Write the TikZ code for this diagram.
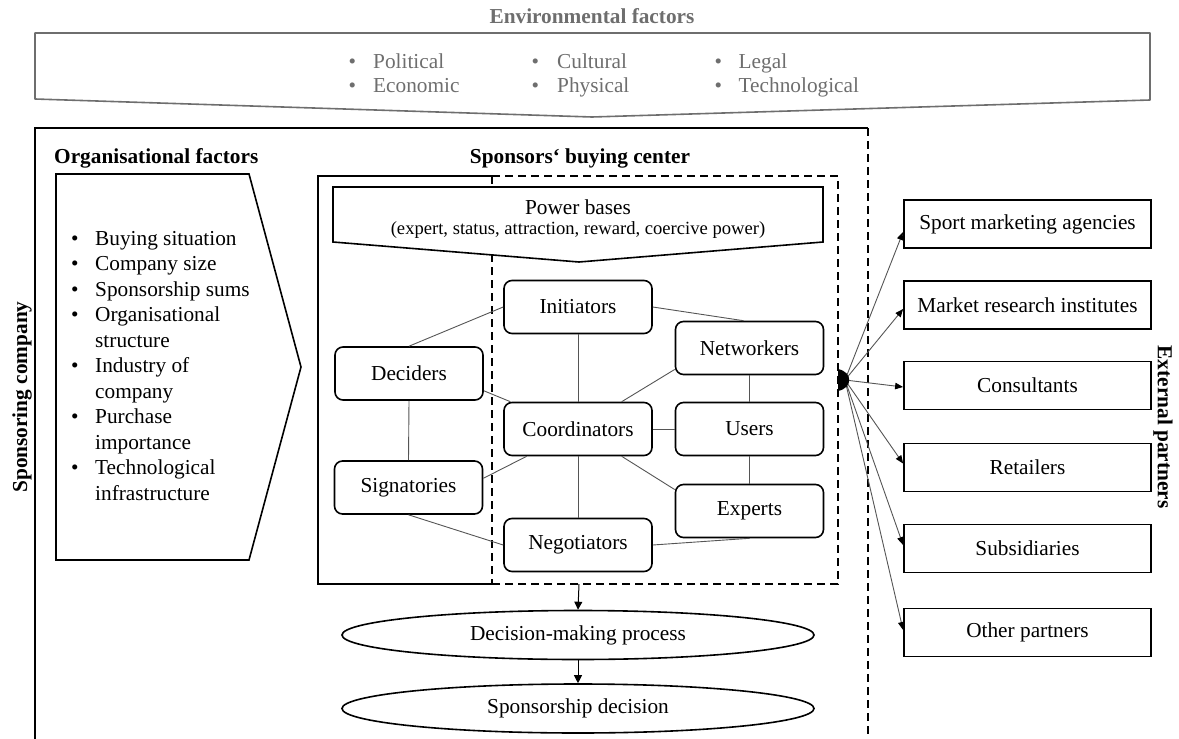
\documentclass[tikz,border=0pt]{standalone}
\usepackage{fontspec}
\setmainfont{Liberation Serif}
\usetikzlibrary{arrows.meta,shapes.geometric,calc}
\definecolor{envgray}{RGB}{110,110,110}
\definecolor{linkgray}{RGB}{85,85,85}
\begin{document}
\begin{tikzpicture}[x=1pt,y=-1pt,
  txt/.style={font=\fontsize{21.3}{25.5}\selectfont, inner sep=0pt},
  title/.style={font=\fontsize{21.3}{25.5}\selectfont\bfseries, inner sep=0pt},
  envlist/.style={font=\fontsize{21.3}{24}\selectfont, text=envgray, inner sep=0pt, anchor=north west},
  role/.style={draw, line width=1.6pt, rounded corners=8pt, minimum width=148pt,
    minimum height=53pt, inner sep=0pt, font=\fontsize{21.3}{25.5}\selectfont},
  phase/.style={draw, ellipse, line width=1.6pt, minimum width=472pt, minimum height=49pt,
    inner sep=0pt, font=\fontsize{21.3}{25.5}\selectfont},
  partner/.style={draw, line width=1.8pt, minimum width=247pt, minimum height=48pt,
    inner sep=0pt, font=\fontsize{21.3}{25.5}\selectfont},
  link/.style={linkgray, line width=0.9pt},
  flow/.style={line width=1pt, -{Triangle[length=8pt,width=8pt]}},
  reach/.style={linkgray, line width=0.9pt, -{Triangle[length=8pt,width=6.5pt,color=black]}},
  dashedline/.style={line width=2pt, dash pattern=on 8pt off 5pt},
]
\useasboundingbox (0,0) rectangle (1179,739);

% environmental factors banner
\node[title, text=envgray] (envtitle) at (592,16) {Environmental factors};
\draw[envgray, line width=1.6pt, line join=round] (35,33) -- (1150,33) -- (1150,100) -- (592,117) -- (35,99) -- cycle;
\node[envlist] (env1) at (348.5,51) {\begin{tabular}{@{}p{24.5pt}@{}l@{}}\textbullet & Political\\ \textbullet & Economic\end{tabular}};
\node[envlist] (env2) at (531.5,51) {\begin{tabular}{@{}p{25.5pt}@{}l@{}}\textbullet & Cultural\\ \textbullet & Physical\end{tabular}};
\node[envlist] (env3) at (714.5,51) {\begin{tabular}{@{}p{24pt}@{}l@{}}\textbullet & Legal\\ \textbullet & Technological\end{tabular}};

% sponsoring company frame
\draw[line width=2.8pt] (35,739) -- (35,128) -- (868,128);
\draw[dashedline] (868,128) -- (868,739);
\node[title, rotate=90] (sponsor) at (22,397) {Sponsoring company};

% organisational factors
\node[title, anchor=west] (orgtitle) at (54,158) {Organisational factors};
\draw[line width=1.6pt, line join=miter] (56,174) -- (249,174) -- (301,367) -- (249,560) -- (56,560) -- cycle;
\node[txt, anchor=north west] (orglist) at (71,227) {\begin{tabular}{@{}p{24pt}@{}l@{}}
\textbullet & Buying situation\\
\textbullet & Company size\\
\textbullet & Sponsorship sums\\
\textbullet & Organisational\\
 & structure\\
\textbullet & Industry of\\
 & company\\
\textbullet & Purchase\\
 & importance\\
\textbullet & Technological\\
 & infrastructure
\end{tabular}};

% buying center
\node[title] (bctitle) at (580,158) {Sponsors‘ buying center};
\draw[line width=2.6pt] (492,176) -- (318,176) -- (318,584) -- (492,584);
\draw[dashedline] (492,176) -- (838,176) -- (838,584) -- (492,584);
\draw[dashedline] (492,176) -- (492,584);
\coordinate (bcbottom) at (579,584);

% power bases
\draw[line width=1.6pt, fill=white] (333,187) -- (823,187) -- (823,242) -- (579,262) -- (333,242) -- cycle;
\node[txt] (power) at (578,207) {Power bases};
\node[font=\fontsize{18.6}{22}\selectfont, inner sep=0pt] (powerlist) at (578,230) {(expert, status, attraction, reward, coercive power)};

% roles
\node[role] (ini) at (578,307) {Initiators};
\node[role] (net) at (749.5,348) {Networkers};
\node[role] (dec) at (409,373.5) {Deciders};
\node[role] (coo) at (578,429) {Coordinators};
\node[role] (use) at (749.5,429) {Users};
\node[role] (sig) at (408.5,487.5) {Signatories};
\node[role] (exp) at (749.5,511) {Experts};
\node[role] (neg) at (578,545) {Negotiators};

\draw[link] (dec.north) -- (ini.west);
\draw[link] (ini.east) -- ([xshift=-6pt]net.north);
\draw[link] (ini.south) -- (coo.north);
\draw[link] (dec.-13) -- (coo.158);
\draw[link] (net.196) -- (coo.32);
\draw[link] (net.south) -- (use.north);
\draw[link] (dec.south) -- (sig.north);
\draw[link] (coo.east) -- (use.west);
\draw[link] (sig.7) -- (coo.208);
\draw[link] (coo.south) -- (neg.north);
\draw[link] (coo.-32) -- (exp.164);
\draw[link] (use.south) -- (exp.north);
\draw[link] (sig.south) -- (neg.west);
\draw[link] (neg.east) -- (exp.south);

% decision flow
\node[phase] (dmp) at (578,635) {Decision-making process};
\node[phase] (spd) at (578,708.5) {Sponsorship decision};
\draw[flow] (bcbottom) -- (dmp.north);
\draw[flow] (dmp.south) -- (spd.north);

% external partners
\node[partner] (spa) at (1027.5,224) {Sport marketing agencies};
\node[partner] (mri) at (1027.5,305) {Market research institutes};
\node[partner] (con) at (1027.5,385.5) {Consultants};
\node[partner] (ret) at (1027.5,467.5) {Retailers};
\node[partner] (sub) at (1027.5,548.5) {Subsidiaries};
\node[partner] (oth) at (1027.5,632.5) {Other partners};
\node[title, rotate=-90] (external) at (1163,427) {External partners};

\coordinate (hub) at (845,380);
\draw[reach] (hub) -- ([yshift=-8pt]spa.west);
\draw[reach] (hub) -- ([yshift=-4pt]mri.west);
\draw[reach] (hub) -- ([yshift=-1.5pt]con.west);
\draw[reach] (hub) -- ([yshift=4pt]ret.west);
\draw[reach] (hub) -- ([yshift=3.5pt]sub.west);
\draw[reach] (hub) -- ([yshift=2.5pt]oth.west);
\fill (838,369) .. controls (853,372) and (853,388) .. (838,391) -- cycle;
\end{tikzpicture}
\end{document}
